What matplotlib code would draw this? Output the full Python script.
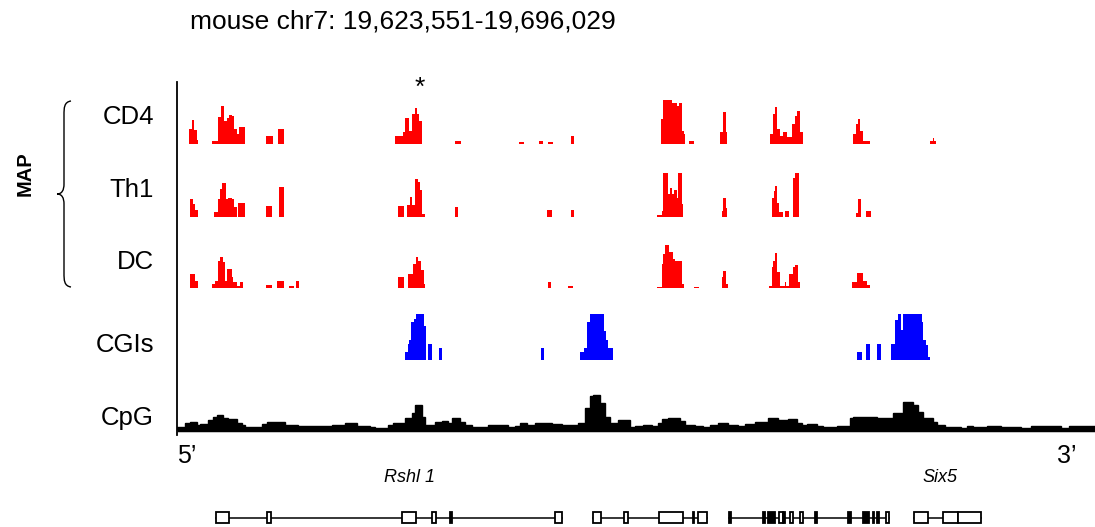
import numpy as np
import matplotlib.pyplot as plt
from matplotlib.path import Path
from matplotlib.patches import PathPatch

plt.rcParams['font.family'] = ['Liberation Sans', 'DejaVu Sans']

# region shown (kb offsets from 19,623,551)
region_title = 'mouse chr7: 19,623,551-19,696,029'
region_kb = 72.478

track_names = ['CD4', 'Th1', 'DC', 'CGIs', 'CpG']

# MAP signal: (start kb, end kb, height)
cd4_bins = [
    (0.95, 1.19, 15), (1.19, 1.34, 24), (1.34, 1.58, 14), (1.58, 1.66, 4),
    (2.77, 3.24, 3), (3.24, 3.48, 27), (3.48, 3.71, 38), (3.71, 3.95, 23), (3.95, 4.11, 26),
    (4.11, 4.35, 29), (4.35, 4.50, 28), (4.50, 4.74, 15), (4.74, 4.90, 10), (4.90, 5.14, 17),
    (5.14, 5.37, 17),
    (7.03, 7.58, 8), (7.98, 8.45, 15),
    (17.22, 17.85, 8), (17.85, 18.01, 12), (18.01, 18.33, 26), (18.33, 18.57, 13),
    (18.57, 18.80, 30), (18.80, 18.96, 36), (18.96, 19.12, 30), (19.12, 19.36, 23),
    (21.96, 22.44, 3), (27.02, 27.41, 2), (28.60, 28.91, 3), (29.31, 29.70, 2), (31.13, 31.36, 8),
    (38.24, 38.39, 25), (38.39, 39.11, 44), (39.11, 39.50, 41), (39.50, 39.66, 38),
    (39.66, 39.90, 41), (39.90, 40.05, 13), (40.05, 40.13, 10),
    (40.45, 40.84, 3),
    (42.90, 43.13, 12), (43.13, 43.37, 32), (43.37, 43.45, 12),
    (46.85, 47.08, 10), (47.08, 47.24, 30), (47.24, 47.40, 37), (47.40, 47.64, 15),
    (47.64, 47.87, 8), (47.87, 48.19, 12), (48.19, 48.59, 7), (48.59, 48.82, 20),
    (48.82, 48.98, 28), (48.98, 49.22, 33), (49.22, 49.45, 12),
    (53.40, 53.64, 10), (53.64, 53.80, 20), (53.80, 53.96, 25), (53.96, 54.19, 13), (54.19, 54.75, 3),
    (59.49, 59.72, 3), (59.72, 59.80, 6), (59.80, 59.96, 3),
]

th1_bins = [
    (1.03, 1.26, 18), (1.26, 1.42, 13), (1.42, 1.66, 7),
    (2.92, 3.24, 5), (3.24, 3.40, 18), (3.40, 3.56, 28), (3.56, 3.87, 34), (3.87, 4.03, 18),
    (4.03, 4.35, 19), (4.35, 4.50, 18), (4.50, 4.74, 10),
    (4.82, 5.37, 14), (7.03, 7.51, 11), (8.06, 8.45, 30),
    (17.46, 17.93, 11),
    (18.17, 18.41, 12), (18.41, 18.57, 20), (18.57, 18.80, 12), (18.80, 19.04, 38),
    (19.04, 19.20, 35), (19.20, 19.36, 27), (19.36, 19.59, 3),
    (21.96, 22.20, 10), (29.23, 29.63, 7), (31.13, 31.36, 7),
    (37.92, 38.32, 2), (38.32, 38.39, 6), (38.39, 38.79, 44), (38.79, 38.95, 23), (38.95, 39.11, 29),
    (39.11, 39.26, 23), (39.26, 39.50, 27), (39.50, 39.58, 19), (39.58, 39.90, 44), (39.90, 39.97, 13),
    (43.06, 43.13, 6), (43.13, 43.37, 19), (43.37, 43.45, 9),
    (47.01, 47.16, 19), (47.16, 47.24, 26), (47.24, 47.40, 31), (47.40, 47.56, 14), (47.56, 47.87, 5),
    (48.03, 48.35, 6),
    (48.66, 48.82, 39), (48.82, 49.14, 44),
    (53.64, 53.80, 4), (53.80, 54.04, 18),
    (54.43, 54.83, 6),
]

dc_bins = [
    (1.03, 1.42, 14), (1.42, 1.66, 7),
    (2.77, 3.00, 4), (3.00, 3.24, 7), (3.24, 3.40, 27), (3.40, 3.63, 31), (3.63, 3.79, 26),
    (3.79, 3.95, 7), (3.95, 4.35, 19), (4.35, 4.42, 11), (4.42, 4.74, 6), (4.74, 4.98, 2),
    (4.98, 5.21, 6),
    (7.03, 7.51, 3), (7.90, 8.45, 7), (8.85, 9.24, 2), (9.40, 9.64, 7),
    (17.46, 17.93, 11),
    (18.25, 18.64, 14), (18.64, 18.88, 24), (18.88, 19.04, 31), (19.04, 19.28, 27),
    (19.28, 19.51, 18), (19.51, 19.59, 4),
    (29.31, 29.55, 6), (30.89, 31.28, 2),
    (37.92, 38.32, 1), (38.32, 38.39, 24), (38.39, 38.55, 34), (38.55, 38.87, 43),
    (38.87, 39.18, 36), (39.18, 39.34, 29), (39.34, 39.90, 27), (39.90, 40.05, 4),
    (40.84, 41.24, 1),
    (43.06, 43.13, 11), (43.13, 43.37, 17), (43.37, 43.53, 4),
    (46.77, 47.01, 2), (47.01, 47.08, 21), (47.08, 47.24, 27), (47.24, 47.40, 35),
    (47.40, 47.64, 16), (47.64, 48.03, 2), (48.03, 48.11, 6), (48.11, 48.35, 2),
    (48.35, 48.66, 14), (48.66, 48.82, 21), (48.82, 49.06, 23), (49.06, 49.22, 6),
    (53.33, 53.72, 6), (53.72, 54.19, 15), (54.19, 54.51, 7), (54.51, 54.75, 3),
]

cgi_bins = [
    (18.01, 18.25, 8), (18.25, 18.33, 16), (18.33, 18.49, 20), (18.49, 18.72, 38),
    (18.72, 18.88, 41), (18.88, 19.51, 46), (19.51, 19.67, 34),
    (19.83, 20.15, 16), (20.70, 20.94, 12), (28.76, 28.99, 12),
    (31.84, 32.15, 8), (32.15, 32.39, 12), (32.39, 32.63, 38), (32.63, 33.73, 46),
    (33.73, 33.89, 29), (33.89, 34.05, 20), (34.05, 34.44, 12),
    (53.72, 54.12, 8), (54.43, 54.75, 16), (55.30, 55.62, 16),
    (56.41, 56.72, 16), (56.72, 56.96, 40), (56.96, 57.20, 46), (57.20, 57.35, 30),
    (57.35, 58.78, 46), (58.78, 58.93, 38), (58.93, 59.17, 20), (59.17, 59.33, 15),
    (59.33, 59.49, 3),
]

# CpG density, step edges (kb) and values
cpg_edges = [
    0, 0.63, 1.03, 1.58, 1.82, 2.45, 2.84, 3.16, 3.63, 4.03,
    4.74, 5.14, 5.37, 6.72, 7.11, 8.53, 9.56, 12.25, 13.27, 14.22,
    15.25, 15.64, 16.67, 17.06, 18.01, 18.57, 18.80, 19.36, 19.59, 20.38,
    20.94, 21.41, 21.73, 22.36, 22.75, 23.31, 24.57, 26.15, 26.70, 27.10,
    27.65, 28.28, 29.63, 30.42, 31.68, 32.23, 32.63, 32.86, 33.42, 33.81,
    34.21, 34.84, 35.79, 36.18, 36.81, 37.53, 38.00, 38.32, 38.79, 39.74,
    40.13, 40.92, 41.55, 42.11, 42.74, 43.53, 44.32, 44.87, 45.66, 46.69,
    47.48, 48.27, 48.98, 49.38, 49.77, 50.56, 51.03, 52.14, 53.17, 53.40,
    55.30, 56.56, 57.28, 57.35, 58.14, 58.54, 58.86, 59.65, 60.04, 60.67,
    61.86, 62.41, 62.88, 63.99, 65.02, 66.60, 67.39, 69.76, 70.39, 72.48,
]
cpg_values = [
    3, 7, 8, 5, 6, 10, 13, 15, 12, 11,
    7, 5, 3, 6, 8, 5, 4, 5, 7, 4,
    3, 2, 5, 7, 12, 17, 25, 13, 5, 8,
    9, 7, 12, 8, 5, 3, 5, 3, 4, 7,
    5, 7, 6, 5, 7, 22, 34, 35, 27, 13,
    7, 10, 3, 4, 5, 4, 7, 11, 12, 9,
    5, 4, 3, 5, 7, 5, 4, 6, 8, 12,
    10, 11, 7, 5, 6, 4, 3, 4, 12, 13,
    12, 17, 23, 28, 25, 18, 12, 8, 5, 3,
    2, 4, 3, 4, 3, 2, 4, 2, 4,
]

# gene models: exons (start kb, end kb, coding/filled) and gene spans
gene_exons = [
    (3.08, 4.11, False), (7.11, 7.43, False), (17.78, 18.88, False), (20.15, 20.46, False),
    (21.57, 21.73, True), (29.86, 30.42, False),
    (32.86, 33.50, False), (35.31, 35.63, False), (38.08, 39.97, False), (40.76, 40.84, True),
    (41.16, 41.87, False),
    (43.61, 43.77, True), (46.29, 46.45, True), (46.69, 47.24, True), (47.56, 47.87, False),
    (47.87, 48.03, True), (48.43, 48.66, False), (49.22, 49.45, False), (50.40, 50.56, True),
    (53.01, 53.25, True), (54.19, 54.67, True), (54.98, 55.06, True), (55.30, 55.46, True),
    (56.01, 56.25, False),
    (58.22, 59.33, False), (60.51, 61.70, False), (61.70, 63.44, False),
]
gene_spans = [(3.08, 30.42), (32.86, 41.87), (43.61, 56.25), (58.22, 63.44)]
gene_names = ['Rshl 1', 'Six5']


def bins_to_steps(bins):
    # contiguous edges/values, gaps filled with zero height
    edges, vals = [bins[0][0]], []
    for a, b, h in bins:
        if a > edges[-1]:
            vals.append(0)
            edges.append(a)
        vals.append(h)
        edges.append(b)
    return np.array(edges), np.array(vals, dtype=float)


W, H = 1095, 527
fig = plt.figure(figsize=(W / 100, H / 100), dpi=100)


def fx(px):
    return px / W


def fy(py):
    return 1 - py / H


# main track panel (y units ~ pixels)
ax = fig.add_axes([fx(177), fy(435), 918 / W, 353 / H])
ax.set_xlim(0, region_kb)
ax.set_ylim(0, 353)
for s in ['top', 'right', 'bottom']:
    ax.spines[s].set_visible(False)
ax.spines['left'].set_linewidth(1.3)
ax.set_xticks([])
ax.set_yticks([])

baselines = [291.5, 218.5, 147.5, 75, 5]
tracks = [(cd4_bins, '#ff0000'), (th1_bins, '#ff0000'), (dc_bins, '#ff0000'), (cgi_bins, '#0000ff')]
for (bins, col), base in zip(tracks, baselines):
    edges, vals = bins_to_steps(bins)
    ax.stairs(base + vals, edges, baseline=base, fill=True, color=col, linewidth=0)

# CpG track
ax.stairs(baselines[4] + np.array(cpg_values), cpg_edges, baseline=baselines[4],
          fill=True, color='black', linewidth=0)
ax.stairs(baselines[4] + np.array(cpg_values), cpg_edges, baseline=baselines[4],
          fill=False, color='black', linewidth=1.0)
ax.plot([0, region_kb], [baselines[4], baselines[4]], color='black', linewidth=2.5,
        solid_capstyle='butt')

# track labels
label_y = [117, 190, 262, 345, 418]
for name, py in zip(track_names, label_y):
    fig.text(fx(154), fy(py), name, ha='right', va='center', fontsize=18.5)

fig.text(fx(190), fy(22), region_title, ha='left', va='center', fontsize=19)
fig.text(fx(420), fy(88), '*', ha='center', va='center', fontsize=19)
fig.text(fx(25), fy(174), 'MAP', rotation=90, ha='center', va='center',
         fontsize=14.5, fontweight='bold')

# brace for the MAP group
brace_px = [(71, 101), (64, 102), (64, 108), (64, 115), (64, 184),
            (64, 190), (62, 194), (57, 194), (62, 194), (64, 198), (64, 204),
            (64, 273), (64, 280), (64, 286), (71, 287)]
codes = [Path.MOVETO, Path.CURVE4, Path.CURVE4, Path.CURVE4, Path.LINETO,
         Path.CURVE4, Path.CURVE4, Path.CURVE4, Path.CURVE4, Path.CURVE4, Path.CURVE4,
         Path.LINETO, Path.CURVE4, Path.CURVE4, Path.CURVE4]
brace = Path([(fx(x), fy(y)) for x, y in brace_px], codes)
fig.patches.append(PathPatch(brace, transform=fig.transFigure, facecolor='none',
                             edgecolor='black', linewidth=1.0))

fig.text(fx(177), fy(456), '5\u2019', ha='left', va='center', fontsize=18)
fig.text(fx(1077), fy(456), '3\u2019', ha='right', va='center', fontsize=18)
fig.text(fx(410), fy(478), gene_names[0], ha='center', va='center', fontsize=13, style='italic')
fig.text(fx(940), fy(478), gene_names[1], ha='center', va='center', fontsize=13, style='italic')

# gene model panel
gx = fig.add_axes([fx(177), fy(530), 918 / W, 25 / H])
gx.set_xlim(0, region_kb)
gx.set_ylim(-12.5, 12.5)
gx.axis('off')
for a, b in gene_spans:
    gx.plot([a, b], [0, 0], color='black', linewidth=1.1, zorder=1)
ex_s = np.array([e[0] for e in gene_exons])
ex_e = np.array([e[1] for e in gene_exons])
ex_fill = ['black' if e[2] else 'white' for e in gene_exons]
gx.bar(ex_s, 11, width=ex_e - ex_s, bottom=-5.5, align='edge',
       color=ex_fill, edgecolor='black', linewidth=1.3, zorder=2)

fig.savefig('out.png', dpi=100)
